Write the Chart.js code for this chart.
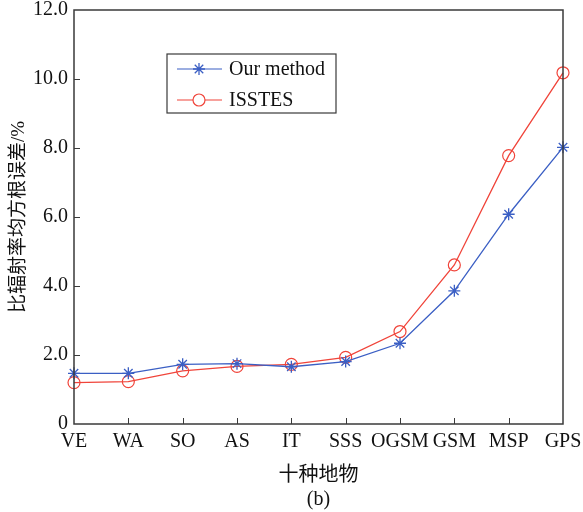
<!DOCTYPE html>
<html>
<head>
<meta charset="utf-8">
<script src="https://cdn.jsdelivr.net/npm/chart.js@4.4.1/dist/chart.umd.min.js"></script>
<style>
  html, body { margin: 0; padding: 0; background: #fff; }
  #box { width: 583px; height: 512px; }
</style>
</head>
<body>
<div id="box"><canvas id="grafico"></canvas></div>
<script>
// categorias (dez tipos de superfície)
const categorias = ['VE', 'WA', 'SO', 'AS', 'IT', 'SSS', 'OGSM', 'GSM', 'MSP', 'GPS'];
// erro RMS da emissividade (%)
const nossoMetodo = [1.47, 1.47, 1.73, 1.75, 1.66, 1.81, 2.34, 3.86, 6.08, 8.02];
const isstes = [1.20, 1.23, 1.54, 1.67, 1.73, 1.93, 2.68, 4.61, 7.78, 10.18];
const ticksY = [0, 2, 4, 6, 8, 10, 12];

const serif = '"Liberation Serif", "Times New Roman", "Noto Sans CJK SC", serif';
const corAzul = '#3b5fc4';
const corVermelha = '#f0443a';
const corEixo = '#3a3a3a';

// Moldura, marcas internas e legenda
const moldura = {
    id: 'moldura',
    afterDraw(chart) {
        const ctx = chart.ctx;
        const a = chart.chartArea;
        const x = chart.scales.x;
        const y = chart.scales.y;
        ctx.save();
        ctx.strokeStyle = corEixo;
        ctx.lineWidth = 1.5;
        ctx.strokeRect(a.left, a.top, a.right - a.left, a.bottom - a.top);

        ctx.lineWidth = 1;
        ctx.beginPath();
        for (let i = 1; i < categorias.length - 1; i++) {
            const px = Math.round(x.getPixelForValue(i)) + 0.5;
            ctx.moveTo(px, a.bottom);
            ctx.lineTo(px, a.bottom - 6);
        }
        ticksY.slice(1, -1).forEach(v => {
            const py = Math.round(y.getPixelForValue(v)) + 0.5;
            ctx.moveTo(a.left, py);
            ctx.lineTo(a.left + 6, py);
        });
        ctx.stroke();

        // legenda
        const lx = 167, ly = 54, lw = 169, lh = 59;
        ctx.fillStyle = '#fff';
        ctx.fillRect(lx, ly, lw, lh);
        ctx.strokeStyle = corEixo;
        ctx.lineWidth = 1.2;
        ctx.strokeRect(lx, ly, lw, lh);
        const linhas = [
            { ds: chart.data.datasets[0], y: ly + 15 },
            { ds: chart.data.datasets[1], y: ly + 46 }
        ];
        linhas.forEach(l => {
            ctx.strokeStyle = l.ds.borderColor;
            ctx.lineWidth = 1.2;
            ctx.beginPath();
            ctx.moveTo(lx + 10, l.y);
            ctx.lineTo(lx + 55, l.y);
            ctx.stroke();
            ctx.fillStyle = '#fff';
            ctx.lineWidth = l.ds.pointBorderWidth;
            Chart.helpers.drawPoint(ctx, {
                pointStyle: l.ds.pointStyle,
                radius: l.ds.pointRadius,
                borderWidth: l.ds.pointBorderWidth,
                rotation: 0
            }, lx + 32, l.y);
            ctx.fillStyle = '#111';
            ctx.font = '20px ' + serif;
            ctx.textBaseline = 'middle';
            ctx.fillText(l.ds.label, lx + 62, l.y + 1);
        });
        ctx.restore();
    }
};

new Chart(document.getElementById('grafico').getContext('2d'), {
    type: 'line',
    data: {
        labels: categorias,
        datasets: [{
            label: 'Our method',
            data: nossoMetodo,
            borderColor: corAzul,
            backgroundColor: corAzul,
            borderWidth: 1.3,
            pointStyle: 'star',
            pointRadius: 6,
            pointBorderWidth: 1.3,
            tension: 0
        }, {
            label: 'ISSTES',
            data: isstes,
            borderColor: corVermelha,
            backgroundColor: 'rgba(0,0,0,0)',
            borderWidth: 1.3,
            pointStyle: 'circle',
            pointRadius: 6,
            pointBorderWidth: 1.2,
            tension: 0
        }]
    },
    options: {
        responsive: true,
        maintainAspectRatio: false,
        animation: false,
        layout: { padding: { left: 0, right: 20, top: 10, bottom: 0 } },
        plugins: {
            legend: { display: false },
            tooltip: { enabled: false }
        },
        scales: {
            x: {
                offset: false,
                grid: { display: false, drawTicks: false },
                border: { display: false },
                ticks: {
                    color: '#111',
                    font: { family: serif, size: 20 },
                    padding: 6,
                    maxRotation: 0,
                    autoSkip: false
                },
                title: {
                    display: true,
                    text: ['十种地物', '(b)'],
                    color: '#111',
                    font: { family: serif, size: 20, lineHeight: 1.2 },
                    padding: { top: 0, bottom: 0 }
                },
                afterFit: s => { s.height = 88; s.paddingLeft = 0; s.paddingRight = 0; }
            },
            y: {
                min: 0,
                max: 12,
                grid: { display: false, drawTicks: false },
                border: { display: false },
                afterBuildTicks: s => { s.ticks = ticksY.map(v => ({ value: v })); },
                ticks: {
                    color: '#111',
                    font: { family: serif, size: 20 },
                    padding: 6,
                    callback: v => v === 0 ? '0' : v.toFixed(1)
                },
                title: {
                    display: true,
                    text: '比辐射率均方根误差/%',
                    color: '#111',
                    font: { family: serif, size: 19 },
                    padding: { top: 8, bottom: 0 }
                },
                afterFit: s => { s.width = 74; s.paddingTop = 0; s.paddingBottom = 0; }
            }
        }
    },
    plugins: [moldura]
});
</script>
</body>
</html>
